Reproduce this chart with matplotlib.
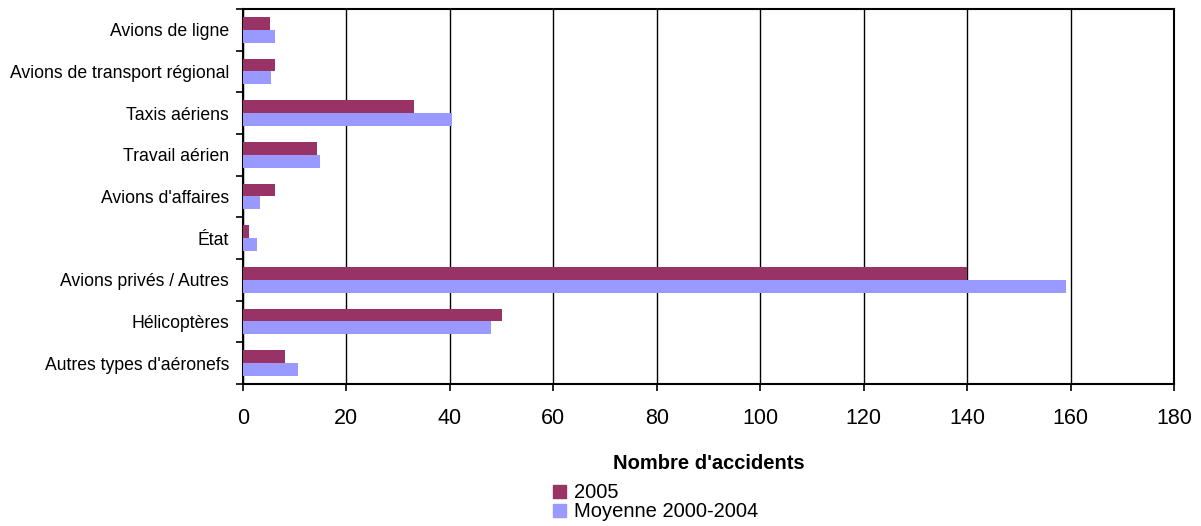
import numpy as np
import matplotlib
matplotlib.use('Agg')
import matplotlib.pyplot as plt
from matplotlib.patches import Patch

# données
categories = ['Avions de ligne', 'Avions de transport régional', 'Taxis aériens',
              'Travail aérien', "Avions d'affaires", 'État', 'Avions privés / Autres',
              'Hélicoptères', "Autres types d'aéronefs"]
val_2005 = [5.2, 6.2, 33.1, 14.3, 6.2, 1.2, 140, 50.1, 8.2]
val_moy = [6.2, 5.4, 40.4, 14.9, 3.3, 2.7, 159.2, 48, 10.7]
xticks = [0, 20, 40, 60, 80, 100, 120, 140, 160, 180]

c_2005 = '#993366'
c_moy = '#9999FF'

plt.rcParams['font.family'] = ['Liberation Sans', 'DejaVu Sans']

fig = plt.figure(figsize=(12.01, 5.26), dpi=100)
ax = fig.add_axes([0.2023, 0.270, 0.7752, 0.713])

y = np.arange(len(categories))
h = 0.31
ax.barh(y - h / 2, val_2005, height=h, color=c_2005, zorder=3)
ax.barh(y + h / 2, val_moy, height=h, color=c_moy, zorder=3)

ax.set_xlim(0, 180)
ax.set_ylim(len(categories) - 0.5, -0.5)
ax.set_xticks(xticks)
ax.tick_params(axis='x', labelsize=15.5, direction='out', length=5, width=1.2, pad=12)
ax.grid(axis='x', color='black', linewidth=1, zorder=0)

# étiquettes au centre, graduations entre les catégories
ax.set_yticks(y)
ax.set_yticklabels(categories, fontsize=12.7)
ax.tick_params(axis='y', which='major', length=0, pad=10)
ax.set_yticks(np.arange(-0.5, len(categories), 1), minor=True)
ax.tick_params(axis='y', which='minor', length=5, width=1.2, direction='out')

for s in ax.spines.values():
    s.set_color('black')
    s.set_linewidth(1.5)

ax.set_xlabel("Nombre d'accidents", fontsize=14.5, fontweight='bold', labelpad=18)

handles = [Patch(color=c_2005), Patch(color=c_moy)]
fig.legend(handles, ['2005', 'Moyenne 2000-2004'], loc='center',
           bbox_to_anchor=(0.546, 0.045), frameon=False, fontsize=14.5,
           handlelength=0.65, handleheight=0.65, handletextpad=0.4,
           labelspacing=0.0, borderpad=0)

fig.savefig('out.png', dpi=100)
